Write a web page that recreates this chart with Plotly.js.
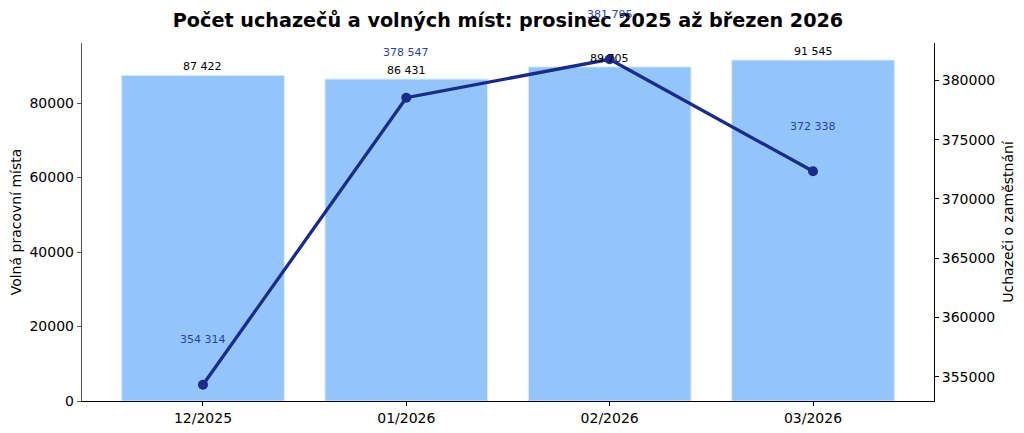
<!DOCTYPE html>
<html>
<head>
<meta charset="utf-8">
<script src="https://cdn.plot.ly/plotly-3.0.1.min.js"></script>
<style>body{margin:0;background:#fff}</style>
</head>
<body>
<div id="graf" style="width:1024px;height:433px"></div>
<script>
// mesice a hodnoty
var mesice = ['12/2025', '01/2026', '02/2026', '03/2026'];
var volnaMista = [87422, 86431, 89705, 91545];
var uchazeci = [354314, 378547, 381795, 372338];

var pismo = 'DejaVu Sans, Liberation Sans, sans-serif';

function sMezerou(n){
  return String(n).replace(/\B(?=(\d{3})+(?!\d))/g, ' ');
}

var sloupce = {
  x: mesice,
  y: volnaMista,
  type: 'bar',
  marker: {color: '#93c5fb', line: {color: '#dbeafe', width: 1}},
  hoverinfo: 'x+y'
};

var cara = {
  x: mesice,
  y: uchazeci,
  yaxis: 'y2',
  type: 'scatter',
  mode: 'lines+markers',
  line: {color: '#1a2b8a', width: 3.3},
  marker: {color: '#1a2b8a', size: 10},
  cliponaxis: false
};

var popisky = [];
for(let i = 0; i < mesice.length; i++){
  // popisky sloupcu
  popisky.push({
    x: mesice[i], y: volnaMista[i], xref: 'x', yref: 'y',
    text: sMezerou(volnaMista[i]), showarrow: false, yanchor: 'bottom', yshift: 0,
    font: {family: pismo, size: 11, color: '#000'}
  });
  // popisky cary
  popisky.push({
    x: mesice[i], y: uchazeci[i], xref: 'x', yref: 'y2',
    text: sMezerou(uchazeci[i]), showarrow: false, yshift: 45,
    font: {family: pismo, size: 11, color: '#2b3fa8'}
  });
}

var layout = {
  width: 1024,
  height: 433,
  margin: {l: 82, r: 90, t: 43, b: 32},
  paper_bgcolor: '#fff',
  plot_bgcolor: '#fff',
  showlegend: false,
  bargap: 0.2,
  font: {family: pismo, size: 14, color: '#000'},
  title: {
    text: '<b>Počet uchazečů a volných míst: prosinec 2025 až březen 2026</b>',
    font: {family: pismo, size: 19.2, color: '#000'},
    x: 0.5, xref: 'paper', xanchor: 'center',
    y: 1 - 20/433, yref: 'container', yanchor: 'middle'
  },
  xaxis: {
    type: 'category',
    range: [-0.595, 3.595],
    showline: true, linecolor: '#000', linewidth: 1,
    ticks: 'outside', ticklen: 4, tickcolor: '#000',
    showgrid: false, zeroline: false,
    tickfont: {family: pismo, size: 14}
  },
  yaxis: {
    range: [0, 96122],
    tickvals: [0, 20000, 40000, 60000, 80000],
    ticktext: ['0', '20000', '40000', '60000', '80000'],
    showline: true, linecolor: '#555', linewidth: 1.2,
    ticks: 'outside', ticklen: 4, tickcolor: '#555',
    showgrid: false, zeroline: false,
    tickfont: {family: pismo, size: 14},
    title: {text: 'Volná pracovní místa', font: {family: pismo, size: 14}, standoff: 4}
  },
  yaxis2: {
    overlaying: 'y',
    side: 'right',
    anchor: 'x',
    range: [352940, 383169],
    tickvals: [355000, 360000, 365000, 370000, 375000, 380000],
    ticktext: ['355000', '360000', '365000', '370000', '375000', '380000'],
    showline: true, linecolor: '#000', linewidth: 1,
    ticks: 'outside', ticklen: 4, tickcolor: '#000',
    showgrid: false, zeroline: false,
    tickfont: {family: pismo, size: 14},
    title: {text: 'Uchazeči o zaměstnání', font: {family: pismo, size: 14}, standoff: 8}
  },
  annotations: popisky
};

Plotly.newPlot('graf', [sloupce, cara], layout, {displayModeBar: false, staticPlot: true});
</script>
</body>
</html>
